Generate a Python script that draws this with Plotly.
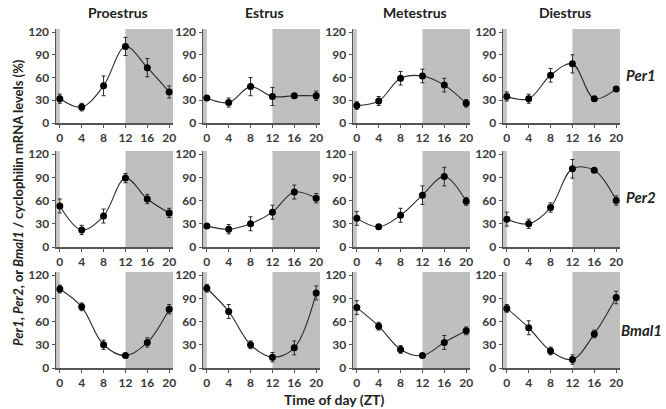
import plotly.graph_objects as go

zt = [0, 4, 8, 12, 16, 20]
stages = ["Proestrus", "Estrus", "Metestrus", "Diestrus"]
genes = ["Per1", "Per2", "Bmal1"]

per1_mean = [
    [32, 21, 49, 101, 73, 41],
    [33, 27, 48, 35, 36, 36],
    [23, 29, 59, 62, 50, 26],
    [35, 32, 63, 78, 32, 45],
]
per1_err = [
    [6, 5, 13, 12, 12, 8],
    [3, 6, 12, 12, 2, 6],
    [5, 6, 9, 9, 9, 5],
    [6, 6, 9, 12, 2, 2],
]
per2_mean = [
    [53, 22, 40, 89, 62, 44],
    [27, 23, 30, 45, 71, 63],
    [37, 26, 41, 67, 91, 59],
    [36, 30, 51, 101, 99, 60],
]
per2_err = [
    [9, 6, 9, 6, 6, 6],
    [2, 6, 9, 9, 9, 6],
    [9, 2, 9, 12, 12, 5],
    [9, 6, 6, 12, 2, 6],
]
bmal1_mean = [
    [102, 79, 30, 16, 33, 76],
    [103, 73, 30, 14, 26, 97],
    [78, 54, 24, 16, 33, 48],
    [77, 52, 22, 11, 44, 91],
]
bmal1_err = [
    [5, 5, 6, 2, 6, 6],
    [5, 9, 5, 6, 9, 9],
    [9, 5, 5, 2, 9, 5],
    [5, 9, 5, 6, 5, 8],
]
means = [per1_mean, per2_mean, bmal1_mean]
errs = [per1_err, per2_err, bmal1_err]

y_ticks = [0, 30, 60, 90, 120]
x_range = [-0.7, 20.7]
y_range = [0, 124]
dark_start = 12

W, H = 666, 409


def px(x):
    return x / W


def py(y):
    return 1 - y / H


col_px = [(56, 173), (203, 320), (353, 470), (503, 620)]
row_px = [(29, 123), (151, 247), (272, 368)]

fig = go.Figure()
FONT = "Lato"
tickfont = dict(family=FONT, size=12, color="#3a3a3a", weight="bold")

shapes = []
annotations = []
for r in range(3):
    for c in range(4):
        idx = r * 4 + c + 1
        xa = "x" if idx == 1 else f"x{idx}"
        ya = "y" if idx == 1 else f"y{idx}"
        xk = "xaxis" if idx == 1 else f"xaxis{idx}"
        yk = "yaxis" if idx == 1 else f"yaxis{idx}"
        x0, x1 = col_px[c]
        y0, y1 = row_px[r]
        fig.update_layout(**{
            xk: dict(domain=[px(x0), px(x1)], range=x_range, anchor=ya,
                     tickvals=zt, ticks="outside", ticklen=3, tickcolor="#555",
                     showline=True, linecolor="#555", linewidth=1.5,
                     showgrid=False, zeroline=False, tickfont=tickfont,
                     automargin=False),
            yk: dict(domain=[py(y1), py(y0)], range=y_range, anchor=xa,
                     tickvals=y_ticks, ticks="outside", ticklen=3, tickcolor="#555",
                     showline=True, linecolor="#555", linewidth=1.5,
                     showgrid=False, zeroline=False, tickfont=tickfont,
                     automargin=False),
        })
        shapes.append(dict(type="rect", xref=xa, yref=ya, x0=dark_start, x1=x_range[1],
                           y0=0, y1=y_range[1], fillcolor="#bfbfbf", line_width=0,
                           layer="below"))
        shapes.append(dict(type="rect", xref=xa, yref=ya, x0=x_range[0], x1=0,
                           y0=0, y1=y_range[1], fillcolor="#c4c4c4", line_width=0,
                           layer="below"))
        fig.add_trace(go.Scatter(
            x=zt, y=means[r][c], xaxis=xa, yaxis=ya, mode="lines+markers",
            line=dict(shape="spline", smoothing=1.0, color="#2a2a2a", width=1.1),
            marker=dict(size=7, color="black"),
            error_y=dict(type="data", array=errs[r][c], color="#2a2a2a",
                         thickness=1, width=2),
            showlegend=False, cliponaxis=False, hoverinfo="skip",
        ))

for c, name in enumerate(stages):
    x0, x1 = col_px[c]
    annotations.append(dict(text=name, x=px((x0 + x1) / 2 + 3), y=py(13),
                            xref="paper", yref="paper", showarrow=False,
                            xanchor="center", yanchor="middle",
                            font=dict(family=FONT, size=14, color="#222", weight="bold")))

gene_y = [75, 197, 330]
for g, gy in zip(genes, gene_y):
    annotations.append(dict(text=f"<i>{g}</i>", x=px(641), y=py(gy),
                            xref="paper", yref="paper", showarrow=False,
                            xanchor="center", yanchor="middle",
                            font=dict(family=FONT, size=15, color="#222", weight="bold")))

annotations.append(dict(text="Time of day (ZT)", x=px(334), y=py(399),
                        xref="paper", yref="paper", showarrow=False,
                        xanchor="center", yanchor="middle",
                        font=dict(family=FONT, size=14, color="#222", weight="bold")))
annotations.append(dict(
    text="<i>Per1</i>, <i>Per2</i>, or <i>Bmal1</i> / cyclophilin mRNA levels (%)",
    x=px(18), y=py(203), xref="paper", yref="paper", showarrow=False,
    xanchor="center", yanchor="middle", textangle=-90,
    font=dict(family=FONT, size=13, color="#222", weight="bold")))

fig.update_layout(template="none", width=W, height=H,
                  margin=dict(l=0, r=0, t=0, b=0, pad=0, autoexpand=False),
                  paper_bgcolor="white", plot_bgcolor="white",
                  shapes=shapes, annotations=annotations, hovermode=False)

fig.write_html("out.html",
               config={"displayModeBar": False, "staticPlot": True},
               post_script="document.body.style.margin='0';"
                           "document.body.style.overflow='hidden';")
